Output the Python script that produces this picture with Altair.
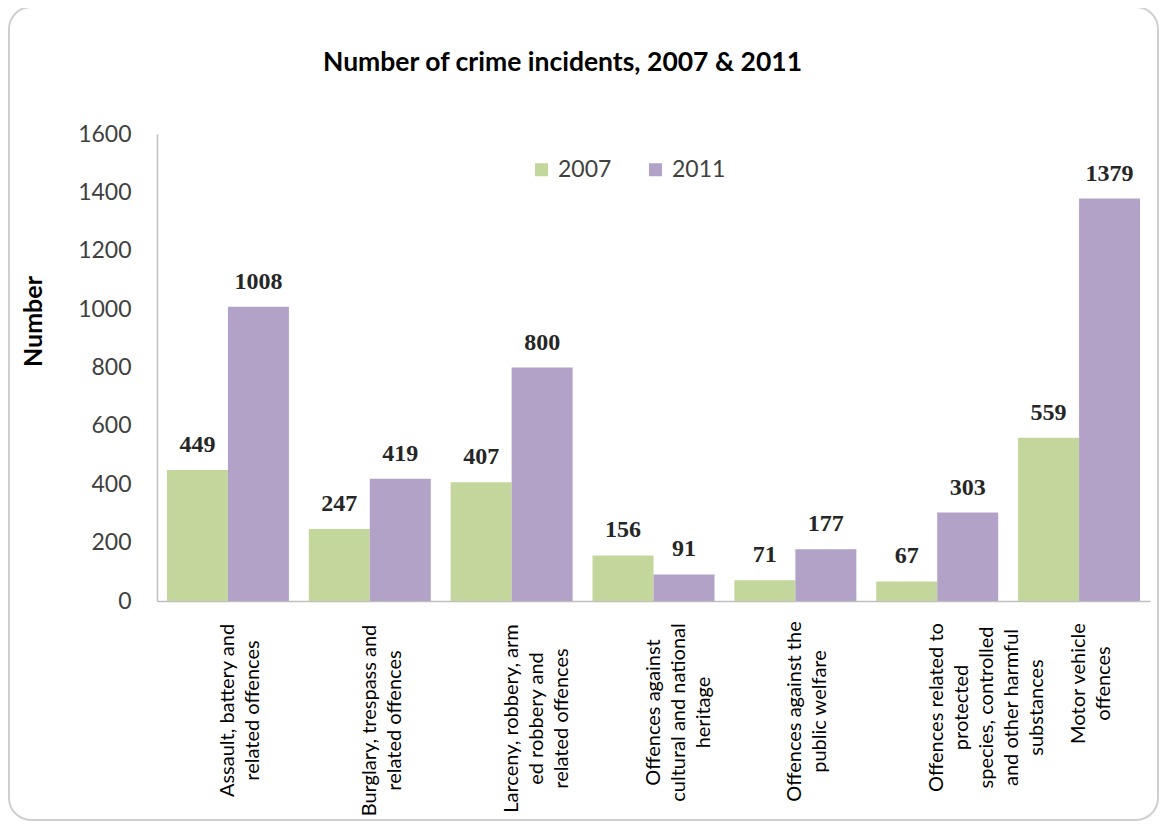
import altair as alt
import pandas as pd

# ---- data ----
categories = [
    "Assault, battery and|related offences",
    "Burglary, trespass and|related offences",
    "Larceny, robbery, arm|ed robbery and|related offences",
    "Offences against|cultural and national|heritage",
    "Offences against the|public welfare",
    "Offences related to|protected|species, controlled|and other harmful|substances",
    "Motor vehicle|offences",
]
years = ["2007", "2011"]
values_2007 = [449, 247, 407, 156, 71, 67, 559]
values_2011 = [1008, 419, 800, 91, 177, 303, 1379]
y_ticks = [0, 200, 400, 600, 800, 1000, 1200, 1400, 1600]

# layout only: distance from the x axis to the centre of each rotated label block
label_pad = [109, 119, 117, 111, 110, 106, 82]

rows = []
for c, a, b in zip(categories, values_2007, values_2011):
    rows.append({"category": c, "year": years[0], "value": a})
    rows.append({"category": c, "year": years[1], "value": b})
df = pd.DataFrame(rows)

FONT = "Lato"

pad_condition = {
    "condition": [
        {"test": "datum.value === " + repr(c), "value": p}
        for c, p in zip(categories, label_pad)
    ],
    "value": 110,
}

x_enc = alt.X(
    "category:N",
    sort=categories,
    scale=alt.Scale(paddingInner=0.14, paddingOuter=0.07),
    axis=alt.Axis(
        title=None,
        labelAngle=270,
        labelAlign="center",
        labelBaseline="middle",
        labelExpr="split(datum.label, '|')",
        labelFont=FONT,
        labelFontSize=20,
        labelLineHeight=25,
        labelColor="#000000",
        labelLimit=500,
        labelOverlap=False,
        labelPadding=pad_condition,
        ticks=False,
        domainColor="#bfbfbf",
        domainWidth=1.5,
        grid=False,
    ),
)

y_enc = alt.Y(
    "value:Q",
    scale=alt.Scale(domain=[0, 1600], nice=False),
    axis=alt.Axis(
        values=y_ticks,
        format="d",
        ticks=False,
        grid=False,
        domainColor="#bfbfbf",
        domainWidth=1.5,
        labelFont=FONT,
        labelFontSize=23,
        labelColor="#404040",
        labelPadding=26,
        title="Number",
        titleFont=FONT,
        titleFontSize=25,
        titleFontWeight="bold",
        titleColor="#000000",
        titleAngle=270,
        titleAlign="center",
        titleBaseline="middle",
        titleX=-124,
        titleY=187,
    ),
)

color_enc = alt.Color(
    "year:N",
    scale=alt.Scale(domain=years, range=["#c3d69b", "#b3a2c7"]),
    legend=alt.Legend(
        orient="none",
        legendX=373,
        legendY=24,
        direction="horizontal",
        title=None,
        symbolType="square",
        symbolSize=169,
        symbolStrokeWidth=0,
        labelFont=FONT,
        labelFontSize=23,
        labelColor="#404040",
        labelOffset=5,
        columnPadding=32,
    ),
)

frame = alt.Chart(alt.Data(values=[{"k": 1}])).mark_rect(
    cornerRadius=22, fill="#ffffff", fillOpacity=0, stroke="#cfcfcf", strokeWidth=2
).encode(
    x=alt.value(-148), x2=alt.value(1001), y=alt.value(-127), y2=alt.value(686)
)

base = alt.Chart(df).encode(
    x=x_enc,
    xOffset=alt.XOffset("year:N", sort=years),
    y=y_enc,
)

bars = base.mark_bar().encode(color=color_enc)

labels = base.mark_text(
    font="Liberation Serif",
    fontSize=24,
    fontWeight="bold",
    baseline="alphabetic",
    dy=-18,
    color="#262626",
).encode(text="value:Q")

chart = (
    alt.layer(frame, bars, labels)
    .properties(
        width=993,
        height=467,
        autosize=alt.AutoSizeParams(type="none"),
        padding={"left": 149, "top": 126, "right": 10, "bottom": 220},
        title=alt.TitleParams(
            "Number of crime incidents, 2007 & 2011",
            font=FONT,
            fontSize=26.5,
            fontWeight="bold",
            color="#000000",
            anchor="middle",
            baseline="alphabetic",
            offset=0,
            dy=91,
            dx=-91,
        ),
        background="#ffffff",
    )
    .configure_view(stroke=None)
)

chart.save("out.html", embed_options={"renderer": "svg", "actions": False})
